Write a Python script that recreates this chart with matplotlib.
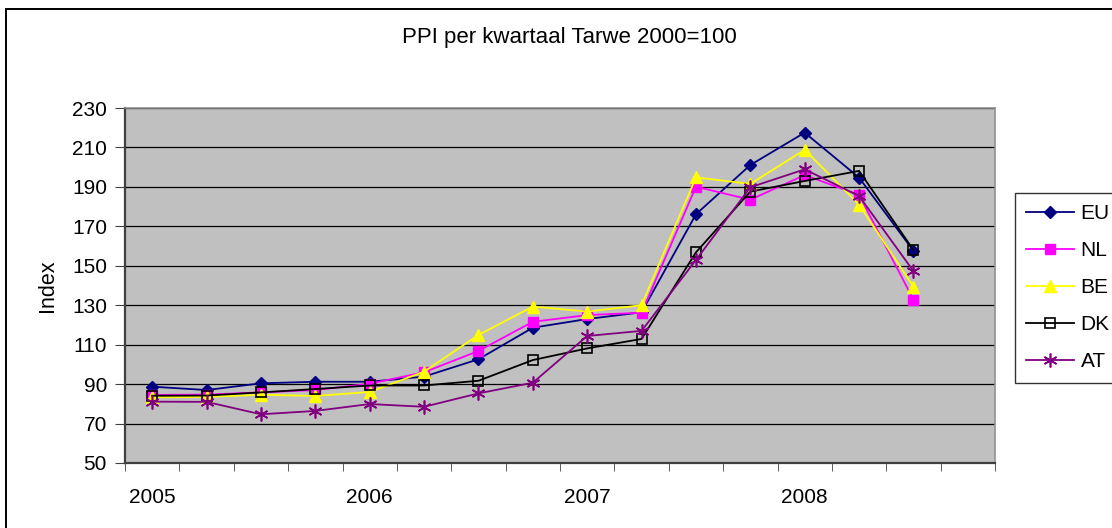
import numpy as np
import matplotlib
matplotlib.use("Agg")
import matplotlib.pyplot as plt
from matplotlib.patches import Rectangle

plt.rcParams['font.family'] = ['Liberation Sans', 'DejaVu Sans']

# 15 quarters, 2005 Q1 .. 2008 Q3 (16 slots on the axis, last one empty)
n_slots = 16
year_labels = ["2005", "2006", "2007", "2008"]
year_pos = [0, 4, 8, 12]

eu = [88.7, 87.0, 90.4, 91.2, 91.2, 93.8, 102.6, 118.6, 123.0, 126.4, 176.1, 201.1, 217.5, 194.7, 157.6]
nl = [84.5, 84.7, 85.8, 87.0, 90.2, 96.0, 106.8, 121.6, 125.0, 126.2, 190.1, 183.5, 196.0, 185.9, 132.8]
be = [83.3, 83.5, 84.6, 84.0, 86.0, 96.3, 114.9, 129.3, 126.8, 130.0, 194.8, 191.5, 208.8, 181.0, 139.4]
dk = [84.1, 84.2, 85.8, 87.5, 89.3, 89.3, 91.7, 102.2, 108.1, 112.9, 156.8, 187.6, 193.0, 198.1, 158.0]
at = [81.1, 81.0, 74.7, 76.4, 79.9, 78.5, 85.3, 90.7, 114.4, 117.0, 152.9, 189.8, 198.9, 185.4, 147.3]

fig = plt.figure(figsize=(11.12, 5.28), dpi=100)
ax = fig.add_axes([125/1112, 1 - 463/528, 870/1112, 355/528])
ax.set_facecolor("#C0C0C0")

x = np.arange(len(eu))
ax.plot(x, eu, color="#000080", lw=1.3, marker="D", ms=6.5, label="EU")
ax.plot(x, nl, color="#FF00FF", lw=1.3, marker="s", ms=7, label="NL")
ax.plot(x, be, color="#FFFF00", lw=1.3, marker="^", ms=9, label="BE")
ax.plot(x, dk, color="black", lw=1.3, marker="s", ms=7, mfc="none", mec="black",
        mew=1.2, label="DK")
ax.plot(x, at, color="#800080", lw=1.3, marker=(6, 2, 0), ms=10, mew=1.2, label="AT")

ax.set_xlim(-0.5, n_slots - 0.5)
ax.set_ylim(50, 230)
ax.set_yticks(np.arange(50, 231, 20))
ax.grid(axis="y", color="black", lw=0.9)
ax.set_axisbelow(True)

ax.set_xticks(year_pos)
ax.set_xticklabels(year_labels)
ax.set_xticks(np.arange(-0.5, n_slots, 1), minor=True)
ax.tick_params(axis="x", which="major", length=0, pad=18, labelsize=15)
ax.tick_params(axis="x", which="minor", direction="out", length=6, color="#404040")
ax.tick_params(axis="y", direction="out", length=7, color="#404040", pad=6, labelsize=15)

for side in ["left", "bottom"]:
    ax.spines[side].set_color("#404040")
    ax.spines[side].set_linewidth(1.6)
for side in ["top", "right"]:
    ax.spines[side].set_color("#909090")
    ax.spines[side].set_linewidth(1.2)

ax.set_ylabel("Index", fontsize=15.5, labelpad=10)

fig.text(569/1112, 1 - 38/528, "PPI per kwartaal Tarwe 2000=100", ha="center",
         va="center", fontsize=16)

leg = ax.legend(loc="upper left", bbox_to_anchor=(1015/1112, 1 - 193/528),
                bbox_transform=fig.transFigure, fontsize=15, frameon=True,
                fancybox=False, edgecolor="black", handlelength=2.3,
                labelspacing=0.86, borderpad=0.55, handletextpad=0.3,
                borderaxespad=0)
leg.get_frame().set_linewidth(1.0)

# chart border (runs off the right and bottom edge in the original)
fig.patches.append(Rectangle((6/1112, -0.1), 1.2, 1.1 - 9/528, transform=fig.transFigure,
                             fill=False, edgecolor="black", lw=1.4))

fig.savefig("out.png", dpi=100)
